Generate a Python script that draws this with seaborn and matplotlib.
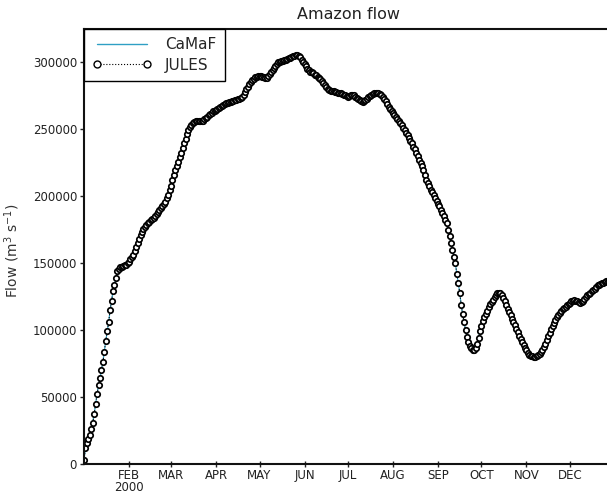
import numpy as np
import pandas as pd
import matplotlib
matplotlib.use('Agg')
import matplotlib.pyplot as plt
from matplotlib.lines import Line2D
import seaborn as sns

# daily dates for the year shown
dates = pd.date_range('2000-01-01', '2000-12-31', freq='D')

# JULES daily flow (m3/s)
flow_jules = [
    3000, 12000, 16000, 19000, 22000, 26000, 31000, 37000, 45000, 52000,
    59000, 64000, 70000, 76000, 84000, 92000, 99000, 106000, 115000, 122000,
    129000, 134000, 139000, 144000, 146000, 147000, 147500, 148000, 148500, 149000,
    150000, 151000, 153000, 155000, 156500, 159000, 162000, 165000, 168000, 171000,
    173500, 175500, 177000, 178500, 180000, 181000, 182000, 183000, 184000, 185500,
    187000, 188500, 189500, 191000, 192500, 194000, 196000, 198500, 201000, 204500,
    208000, 212000, 216000, 219500, 222500, 225500, 229000, 232500, 236000, 239500,
    243000, 246500, 249500, 252000, 253500, 254500, 255500, 256000, 256000, 256000,
    256000, 256000, 256500, 257500, 258500, 259500, 260500, 261500, 262500, 263500,
    264000, 264500, 265000, 266000, 266500, 267500, 268500, 269000, 269500, 270000,
    270500, 270500, 271000, 271500, 272000, 272000, 272500, 273000, 273500, 274500,
    276000, 278000, 280000, 282000, 284000, 285500, 287000, 288000, 289000, 289500,
    290000, 290000, 290000, 289500, 289000, 288500, 288500, 290000, 291500, 293000,
    294500, 296000, 297500, 299000, 300000, 300500, 301000, 301000, 301500, 302000,
    302500, 303000, 303500, 304000, 304500, 305000, 305500, 305500, 305000, 304000,
    302000, 300500, 299000, 297000, 295000, 294000, 293000, 292500, 292000, 291000,
    290500, 289500, 288500, 287500, 286000, 284500, 283000, 282000, 280500, 279500,
    279000, 278500, 278500, 278000, 278000, 277500, 277500, 277000, 276500, 276000,
    275500, 275000, 274500, 275000, 275500, 276000, 275500, 274500, 273500, 273000,
    272000, 271000, 270500, 271000, 272000, 273000, 274000, 275000, 276000, 276500,
    277000, 277500, 277500, 277000, 276500, 275500, 274000, 272500, 271000, 269000,
    267000, 265500, 263500, 262000, 260500, 259000, 257500, 256000, 254500, 253000,
    251000, 249500, 247500, 245500, 243500, 241500, 239500, 237000, 235000, 232500,
    230000, 227500, 225000, 222500, 219500, 216000, 212500, 210000, 207500, 205000,
    203000, 201000, 198500, 196500, 194500, 192500, 190000, 187500, 185000, 182500,
    180000, 175000, 170000, 165000, 160000, 155000, 150000, 142000, 135000, 128000,
    119000, 112000, 106000, 100000, 95000, 91000, 88500, 86500, 85500, 85000,
    86500, 90000, 94500, 99000, 103000, 106500, 109500, 112000, 114500, 117000,
    119500, 121000, 122500, 124500, 126000, 127500, 128000, 127500, 126000, 124000,
    121500, 119000, 116000, 113500, 111000, 108500, 106000, 103500, 101000, 98500,
    96000, 93500, 91000, 89000, 87000, 85000, 83000, 81500, 81000, 80500,
    80000, 80000, 80500, 81500, 82500, 84000, 85500, 87500, 90000, 92500,
    95500, 98000, 100500, 103000, 105500, 107500, 109500, 111000, 112500, 114000,
    115500, 116500, 117500, 118500, 119500, 120500, 121500, 122000, 122500, 122000,
    121500, 121000, 120500, 121000, 122000, 123500, 125000, 126000, 127000, 128000,
    129000, 130000, 131000, 132500, 133500, 134000, 134500, 135000, 135500, 136000,
    136500, 137000, 137500, 138000, 138500, 139000,
]

# CaMaF follows JULES almost exactly in the reference
flow_camaf = list(flow_jules)

month_ticks = pd.date_range('2000-02-01', '2000-12-01', freq='MS')
month_labels = ['FEB\n2000', 'MAR', 'APR', 'MAY', 'JUN', 'JUL', 'AUG',
                'SEP', 'OCT', 'NOV', 'DEC']
y_ticks = [0, 50000, 100000, 150000, 200000, 250000, 300000]

df = pd.DataFrame({'date': dates, 'JULES': flow_jules, 'CaMaF': flow_camaf})

sns.set_style('ticks')
plt.rcParams['font.family'] = ['DejaVu Sans']

fig = plt.figure(figsize=(6.07, 4.95), dpi=100)
# axes run past the right edge, as in the cropped original
ax = fig.add_axes([84 / 607, 31 / 495, 529.5 / 607, 435 / 495])

camaf_color = '#2f9fc4'
sns.lineplot(data=df, x='date', y='CaMaF', ax=ax, color=camaf_color,
             linewidth=0.8, zorder=1)
sns.lineplot(data=df, x='date', y='JULES', ax=ax, color='black', linestyle=':',
             linewidth=0.8, marker='o', markersize=3.9, markerfacecolor='white',
             markeredgecolor='black', markeredgewidth=1.25, zorder=2)

ax.set_xlim(dates[0], dates[-1])
ax.set_ylim(0, 325000)
ax.set_xticks(month_ticks)
ax.set_xticklabels(month_labels, linespacing=0.95)
ax.set_yticks(y_ticks)
ax.set_yticklabels([str(v) for v in y_ticks])
ax.tick_params(axis='x', direction='inout', length=5, width=1, labelsize=8.5,
               colors='#222222', pad=1)
ax.tick_params(axis='y', direction='out', length=3, width=1, labelsize=8.5,
               colors='#222222', pad=2)
for side in ['left', 'bottom', 'top', 'right']:
    ax.spines[side].set_linewidth(1.5)
    ax.spines[side].set_color('#111111')

ax.set_xlabel('')
ax.set_ylabel('Flow (m$^3$ s$^{-1}$)', fontsize=10, color='#333333')
ax.yaxis.set_label_coords(22 / 607, 1 - 251 / 495, transform=fig.transFigure)
ax.set_title('Amazon flow', fontsize=11.5, color='#222222', pad=7)

handles = [
    Line2D([], [], color=camaf_color, linewidth=1),
    Line2D([], [], color='black', linestyle=':', linewidth=0.8, marker='o',
           markersize=5, markerfacecolor='white', markeredgecolor='black',
           markeredgewidth=1),
]
leg = ax.legend(handles, ['CaMaF', 'JULES'], loc='upper left', fontsize=11,
                frameon=True, fancybox=False, framealpha=1, edgecolor='black',
                borderaxespad=0, borderpad=0.55, handlelength=3.9,
                handletextpad=0.85, labelspacing=0.35, numpoints=2)
leg.get_frame().set_linewidth(1.0)

fig.savefig('out.png', dpi=100)
plt.close(fig)
